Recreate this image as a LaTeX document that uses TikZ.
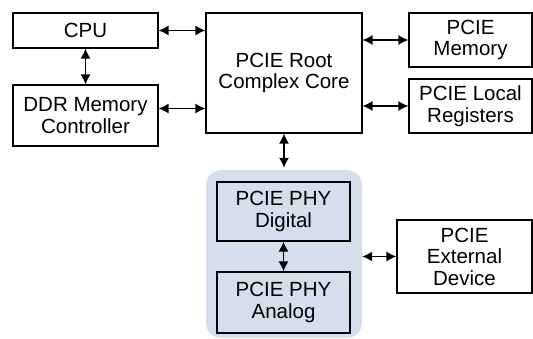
\documentclass[tikz,border=0pt]{standalone}
\usepackage{fontspec}
\setmainfont{Liberation Sans}
\usetikzlibrary{arrows.meta}
\definecolor{phyblue}{RGB}{213,222,235}

\begin{document}
\begin{tikzpicture}
		[x=1pt,y=-1pt,
		unit/.style={draw,line width=1.2pt,align=center,inner sep=0pt,font=\fontsize{20.5}{21.5}\selectfont},
		phyzone/.style={fill=phyblue,rounded corners=15pt,inner sep=0pt},
		edge/.style={<->,> = {Latex[length=10pt,width=10pt]},line width=1.3pt}]
		\useasboundingbox (0,0) rectangle (533,339);
		\node[phyzone,minimum width=156pt,minimum height=168pt] (phy) at (284,254) {};
		\node[unit,minimum width=145pt,minimum height=35pt] (cpu) at (85.5,30.5) {CPU};
		\node[unit,minimum width=145pt,minimum height=61pt] (ddr) at (85.5,115.5) {DDR Memory\\Controller};
		\node[unit,minimum width=156pt,minimum height=120pt] (root) at (284,73) {PCIE Root\\Complex Core};
		\node[unit,minimum width=123pt,minimum height=54pt] (mem) at (470.5,40) {PCIE\\Memory};
		\node[unit,minimum width=123pt,minimum height=54pt] (reg) at (470.5,106) {PCIE Local\\Registers};
		\node[unit,minimum width=133pt,minimum height=59pt] (dig) at (283.5,211.5) {PCIE PHY\\Digital};
		\node[unit,minimum width=133pt,minimum height=61pt] (ana) at (283.5,302.5) {PCIE PHY\\Analog};
		\node[unit,minimum width=135pt,minimum height=73pt] (ext) at (464.5,256.5) {PCIE\\External\\Device};
		\path (ddr.east) ++(0,-7) coordinate (ddrport);
		
		\foreach \from/\to in {cpu.east/cpu.east -| root.west,ddrport/ddrport -| root.west,cpu.south/ddr.north,
			mem.west -| root.east/mem.west,reg.west -| root.east/reg.west,dig.south/ana.north,
			ext.west -| phy.east/ext.west}
		\draw[edge] (\from) -- (\to);
		\draw[edge,shorten >=2pt] (root.south) -- (root.south |- phy.north);
		\end{tikzpicture}
\end{document}
